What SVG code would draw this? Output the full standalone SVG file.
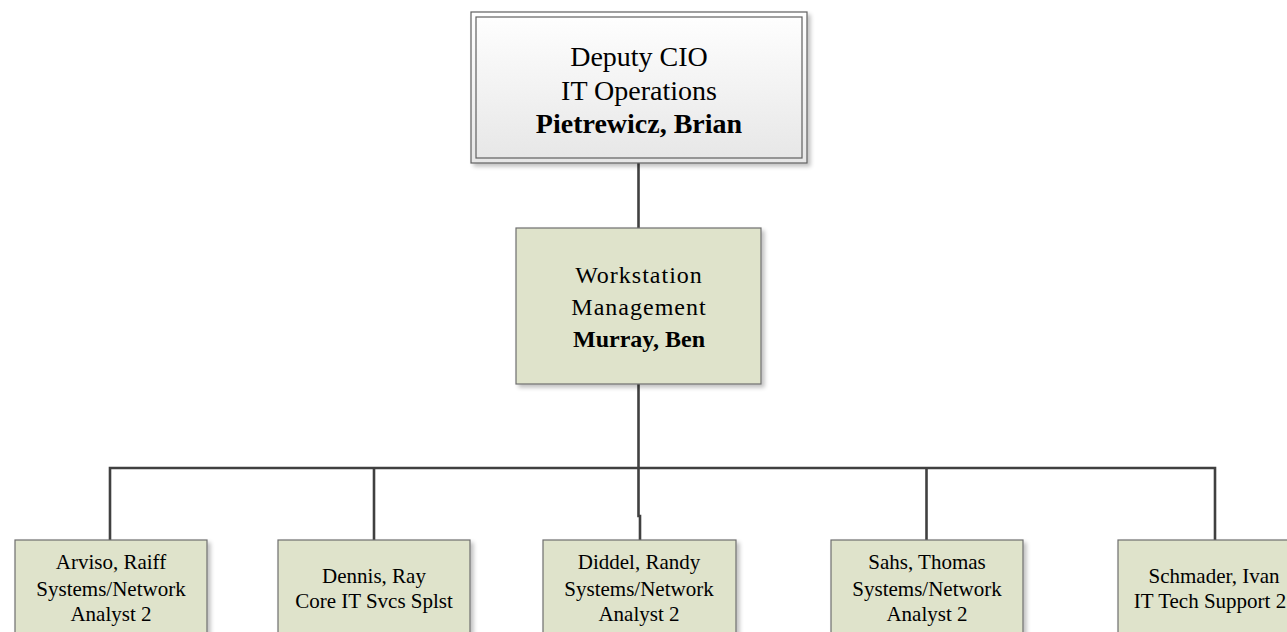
<svg xmlns="http://www.w3.org/2000/svg" width="1287" height="632" viewBox="0 0 1287 632">
<defs>
<linearGradient id="gTop" x1="0" y1="0" x2="0" y2="1">
<stop offset="0" stop-color="#ffffff"/>
<stop offset="1" stop-color="#e6e6e6"/>
</linearGradient>
<filter id="sh" x="-10%" y="-10%" width="130%" height="130%">
<feGaussianBlur in="SourceAlpha" stdDeviation="2"/>
<feOffset dx="3" dy="3" result="b"/>
<feComponentTransfer><feFuncA type="linear" slope="0.25"/></feComponentTransfer>
<feMerge><feMergeNode/><feMergeNode in="SourceGraphic"/></feMerge>
</filter>
</defs>
<style>
text{font-family:'Liberation Serif',Tinos,'Times New Roman',Times,serif;fill:#000;text-anchor:middle}
.b{font-weight:bold}
.box{fill:#dfe3cb;stroke:#6e6e6e;stroke-width:1.2}
.ln{fill:none;stroke:#404040;stroke-width:2.6}
</style>
<rect width="1287" height="632" fill="#ffffff"/>
<g id="connectors">
<path class="ln" d="M638.5,163 V228"/>
<path class="ln" d="M638.5,384 V468"/>
<path class="ln" d="M110,540 V468 H1215 V540"/>
<path class="ln" d="M374,468 V540"/>
<path class="ln" d="M926.5,468 V540"/>
<path class="ln" d="M638.5,468 V516 H640 V540"/>
</g>
<g id="node-deputy-cio">
<rect x="471" y="12" width="336" height="151" fill="url(#gTop)" stroke="#606060" stroke-width="1.2" filter="url(#sh)"/>
<rect x="476" y="17" width="326" height="141" fill="none" stroke="#606060" stroke-width="1.2"/>
<text font-family="Liberation Serif, serif" x="639" y="66" font-size="28">Deputy CIO</text>
<text font-family="Liberation Serif, serif" x="639" y="100" font-size="28">IT Operations</text>
<text font-family="Liberation Serif, serif" class="b" x="639" y="133" font-size="28">Pietrewicz, Brian</text>
</g>
<g id="node-workstation">
<rect class="box" x="516" y="228" width="245" height="156" filter="url(#sh)"/>
<text x="639" y="283" font-size="24" letter-spacing="1">Workstation</text>
<text x="639" y="315" font-size="24" letter-spacing="1">Management</text>
<text class="b" x="639" y="347" font-size="24">Murray, Ben</text>
</g>
<g id="node-arviso">
<rect class="box" x="15" y="540" width="192" height="110" filter="url(#sh)"/>
<text x="111" y="569" font-size="21">Arviso, Raiff</text>
<text x="111" y="596" font-size="21">Systems/Network</text>
<text x="111" y="621" font-size="21">Analyst 2</text>
</g>
<g id="node-dennis">
<rect class="box" x="278" y="540" width="192" height="110" filter="url(#sh)"/>
<text x="374" y="583" font-size="21">Dennis, Ray</text>
<text x="374" y="608" font-size="21">Core IT Svcs Splst</text>
</g>
<g id="node-diddel">
<rect class="box" x="543" y="540" width="193" height="110" filter="url(#sh)"/>
<text x="639" y="569" font-size="21">Diddel, Randy</text>
<text x="639" y="596" font-size="21">Systems/Network</text>
<text x="639" y="621" font-size="21">Analyst 2</text>
</g>
<g id="node-sahs">
<rect class="box" x="831" y="540" width="192" height="110" filter="url(#sh)"/>
<text x="927" y="569" font-size="21">Sahs, Thomas</text>
<text x="927" y="596" font-size="21">Systems/Network</text>
<text x="927" y="621" font-size="21">Analyst 2</text>
</g>
<g id="node-schmader">
<rect class="box" x="1118" y="540" width="192" height="110" filter="url(#sh)"/>
<text x="1214" y="583" font-size="21">Schmader, Ivan</text>
<text x="1210" y="608" font-size="21">IT Tech Support 2</text>
</g>
</svg>
